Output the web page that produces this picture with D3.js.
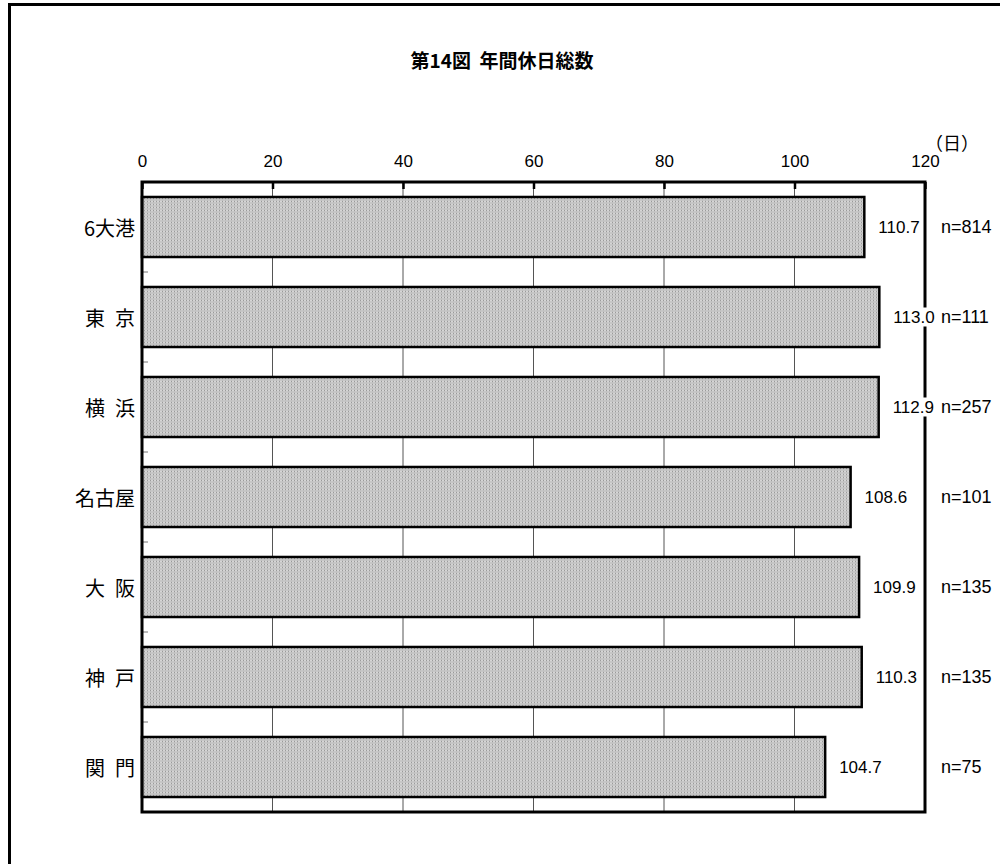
<!DOCTYPE html>
<html>
<head>
<meta charset="utf-8">
<script src="https://cdn.jsdelivr.net/npm/d3@7"></script>
<style>
  html, body { margin: 0; padding: 0; background: #fff; }
  svg { display: block; font-family: "Noto Sans CJK JP", "Noto Sans", sans-serif; }
  .num { font-family: "Liberation Sans", Arial, sans-serif; }
</style>
</head>
<body>
<svg id="chart" width="1000" height="864"></svg>
<script>
// Annual total days off by port (days)
const categories = ["6大港", "東\u2002京", "横\u2002浜", "名古屋", "大\u2002阪", "神\u2002戸", "関\u2002門"];
const values = [110.7, 113.0, 112.9, 108.6, 109.9, 110.3, 104.7];
const sampleSizes = ["n=814", "n=111", "n=257", "n=101", "n=135", "n=135", "n=75"];
const xTicks = [0, 20, 40, 60, 80, 100, 120];
const titleText = "第14図  年間休日総数";
const unitText = "（日）";

const svg = d3.select("#chart");

// outer frame (left and top edges)
svg.append("path")
  .attr("d", "M9.5,864 V4.5 H1000")
  .attr("fill", "none").attr("stroke", "#000").attr("stroke-width", 3);

// title
svg.append("text")
  .attr("x", 502).attr("y", 59)
  .attr("text-anchor", "middle").attr("dominant-baseline", "central")
  .attr("font-size", 19).attr("font-weight", "bold")
  .style("white-space", "pre")
  .text(titleText);

const plot = { left: 142, right: 925, top: 182, bottom: 812 };

const x = d3.scaleLinear().domain([0, 120]).range([plot.left, plot.right]);
const y = d3.scaleBand().domain(categories).range([plot.top, plot.bottom]).paddingInner(0.333).paddingOuter(0.1665);

// dotted fill used by the bars
const defs = svg.append("defs");
const pat = defs.append("pattern")
  .attr("id", "dots").attr("patternUnits", "userSpaceOnUse")
  .attr("width", 3).attr("height", 3);
pat.append("rect").attr("width", 3).attr("height", 3).attr("fill", "#d6d6d6");
pat.append("rect").attr("x", 0).attr("y", 0).attr("width", 1).attr("height", 1).attr("fill", "#7a7a7a");
pat.append("rect").attr("x", 1.5).attr("y", 1.5).attr("width", 1).attr("height", 1).attr("fill", "#9a9a9a");
pat.append("rect").attr("x", 0).attr("y", 0).attr("width", 0.6).attr("height", 3).attr("fill", "#b0b0b0");

// vertical gridlines
svg.append("g")
  .selectAll("line")
  .data(xTicks.filter(t => t > 0 && t < 120))
  .join("line")
  .attr("x1", d => x(d)).attr("x2", d => x(d))
  .attr("y1", plot.top).attr("y2", plot.bottom)
  .attr("stroke", "#555").attr("stroke-width", 1);

// small category separators on the left axis
const bandStep = y.step();
const gap = bandStep - y.bandwidth();
svg.append("g")
  .selectAll("line")
  .data(categories.slice(0, -1))
  .join("line")
  .attr("x1", plot.left).attr("x2", plot.left + 6)
  .attr("y1", d => y(d) + y.bandwidth() + gap / 2)
  .attr("y2", d => y(d) + y.bandwidth() + gap / 2)
  .attr("stroke", "#777").attr("stroke-width", 1);

// bars
svg.append("g")
  .selectAll("rect")
  .data(values)
  .join("rect")
  .attr("x", x(0))
  .attr("y", (d, i) => y(categories[i]))
  .attr("width", d => x(d) - x(0))
  .attr("height", y.bandwidth())
  .attr("fill", "url(#dots)")
  .attr("stroke", "#000").attr("stroke-width", 2.5);

// plot frame
svg.append("rect")
  .attr("x", plot.left).attr("y", plot.top)
  .attr("width", plot.right - plot.left).attr("height", plot.bottom - plot.top)
  .attr("fill", "none").attr("stroke", "#000").attr("stroke-width", 3);

// top axis with ticks pointing into the plot
const axis = svg.append("g")
  .attr("transform", `translate(0,${plot.top})`)
  .call(d3.axisTop(x).tickValues(xTicks).tickSize(-7).tickPadding(15).tickFormat(d3.format("d")));
axis.select(".domain").remove();
axis.selectAll(".tick line").attr("stroke", "#000").attr("stroke-width", 2.5);
axis.selectAll(".tick text")
  .attr("class", "num")
  .attr("font-size", 17).attr("fill", "#000");

// unit
svg.append("text")
  .attr("x", 952).attr("y", 142)
  .attr("text-anchor", "middle").attr("dominant-baseline", "central")
  .attr("font-size", 18)
  .text(unitText);

// category labels
svg.append("g")
  .selectAll("text")
  .data(categories)
  .join("text")
  .attr("x", 135)
  .attr("y", d => y(d) + y.bandwidth() / 2)
  .attr("text-anchor", "end").attr("dominant-baseline", "central")
  .attr("font-size", 20)
  .text(d => d);

// value labels (white box hides the frame behind the text)
const valueLabels = svg.append("g")
  .selectAll("g")
  .data(values)
  .join("g")
  .attr("transform", (d, i) => `translate(${x(d) + 14},${y(categories[i]) + y.bandwidth() / 2})`);
valueLabels.append("text")
  .attr("class", "num")
  .attr("dominant-baseline", "central")
  .attr("font-size", 17)
  .text(d => d3.format(".1f")(d));
valueLabels.each(function() {
  const g = d3.select(this);
  const bb = g.select("text").node().getBBox();
  g.insert("rect", "text")
    .attr("x", bb.x - 1).attr("y", bb.y)
    .attr("width", bb.width + 2).attr("height", bb.height)
    .attr("fill", "#fff");
});

// sample size labels
svg.append("g")
  .selectAll("text")
  .data(sampleSizes)
  .join("text")
  .attr("class", "num")
  .attr("x", 941)
  .attr("y", (d, i) => y(categories[i]) + y.bandwidth() / 2)
  .attr("dominant-baseline", "central")
  .attr("font-size", 18)
  .text(d => d);
</script>
</body>
</html>
